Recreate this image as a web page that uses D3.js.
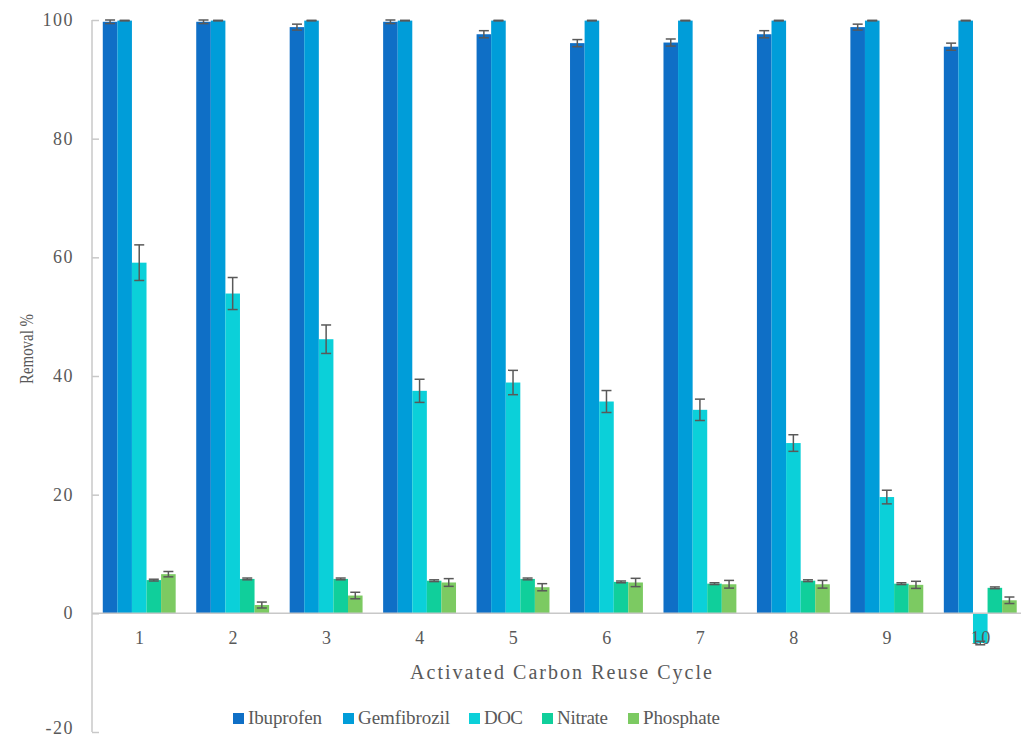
<!DOCTYPE html>
<html>
<head>
<meta charset="utf-8">
<script src="https://cdn.jsdelivr.net/npm/d3@7"></script>
<style>
  html, body { margin: 0; padding: 0; background: #fff; }
</style>
</head>
<body>
<svg id="chart" width="1021" height="740"></svg>
<script>
const categories = ["1", "2", "3", "4", "5", "6", "7", "8", "9", "10"];
const seriesNames = ["Ibuprofen", "Gemfibrozil", "DOC", "Nitrate", "Phosphate"];
const seriesColors = ["#0F6FC6", "#009DD9", "#0BD0D9", "#10CF9B", "#7CCA62"];

const ibuprofen    = [99.7, 99.7, 98.8, 99.7, 97.6, 96.1, 96.2, 97.6, 98.8, 95.5];
const ibuprofenErr = [0.3, 0.3, 0.5, 0.3, 0.6, 0.6, 0.6, 0.6, 0.5, 0.6];
const gemfibrozil    = [99.9, 99.9, 99.9, 99.9, 99.9, 99.9, 99.9, 99.9, 99.9, 99.9];
const gemfibrozilErr = [0.05, 0.05, 0.05, 0.05, 0.05, 0.05, 0.05, 0.05, 0.05, 0.05];
const doc    = [59.1, 53.9, 46.2, 37.5, 38.9, 35.7, 34.3, 28.7, 19.6, -5.0];
const docErr = [3.0, 2.7, 2.4, 1.95, 2.05, 1.85, 1.8, 1.4, 1.15, 0.3];
const nitrate    = [5.6, 5.8, 5.8, 5.5, 5.8, 5.3, 5.0, 5.5, 5.0, 4.3];
const nitrateErr = [0.15, 0.15, 0.15, 0.15, 0.15, 0.15, 0.15, 0.15, 0.15, 0.15];
const phosphate    = [6.6, 1.4, 3.0, 5.2, 4.4, 5.2, 4.9, 4.9, 4.8, 2.2];
const phosphateErr = [0.45, 0.5, 0.55, 0.65, 0.6, 0.7, 0.65, 0.65, 0.6, 0.55];

const yTicks = [-20, 0, 20, 40, 60, 80, 100];
const yTickLabels = ["-20", "0", "20", "40", "60", "80", "100"];
const xTitle = "Activated Carbon Reuse Cycle";
const yTitle = "Removal %";

const values = [ibuprofen, gemfibrozil, doc, nitrate, phosphate];
const errors = [ibuprofenErr, gemfibrozilErr, docErr, nitrateErr, phosphateErr];

const FONT = "'Liberation Serif', 'Times New Roman', serif";
const svg = d3.select("#chart");
const axisColor = "#C8C8C8";
const textColor = "#595959";

const x0 = d3.scaleBand().domain(categories).range([92.5, 1027]).paddingInner(0.22).paddingOuter(0.11);
const x1 = d3.scaleBand().domain(seriesNames).range([0, x0.bandwidth()]).padding(0);
const y = d3.scaleLinear().domain([-20, 100]).range([732, 20]);

// bars
const data = [];
categories.forEach((c, i) => {
  seriesNames.forEach((s, j) => {
    data.push({cat: c, s: s, j: j, v: values[j][i], e: errors[j][i]});
  });
});

svg.append("g").selectAll("rect").data(data).join("rect")
  .attr("x", d => x0(d.cat) + x1(d.s))
  .attr("width", x1.bandwidth())
  .attr("y", d => y(Math.max(0, d.v)))
  .attr("height", d => Math.abs(y(d.v) - y(0)))
  .attr("fill", d => seriesColors[d.j]);

// x axis line at zero
svg.append("line")
  .attr("x1", 92).attr("x2", 1021)
  .attr("y1", y(0)).attr("y2", y(0))
  .attr("stroke", axisColor).attr("stroke-width", 1.5);

// error bars
const eg = svg.append("g").attr("stroke", "#595959").attr("stroke-width", 1.5).attr("fill", "none");
data.forEach(d => {
  const cx = x0(d.cat) + x1(d.s) + x1.bandwidth() / 2;
  const top = y(d.v + d.e), bot = y(d.v - d.e);
  eg.append("line").attr("x1", cx).attr("x2", cx).attr("y1", top).attr("y2", bot);
  eg.append("line").attr("x1", cx - 5).attr("x2", cx + 5).attr("y1", top).attr("y2", top);
  eg.append("line").attr("x1", cx - 5).attr("x2", cx + 5).attr("y1", bot).attr("y2", bot);
});

// y axis
const yAxis = svg.append("g").attr("transform", "translate(92,0)")
  .call(d3.axisLeft(y).tickValues(yTicks).tickSize(-7).tickPadding(18)
    .tickFormat((d, i) => yTickLabels[i]));
yAxis.attr("font-family", FONT).attr("font-size", 18);
yAxis.select(".domain").attr("stroke", axisColor).attr("stroke-width", 1.5)
  .attr("d", `M0,${y(100)}V${y(-20)}`);
yAxis.selectAll(".tick line").attr("stroke", axisColor).attr("stroke-width", 1.5);
yAxis.selectAll(".tick text")
  .attr("fill", textColor)
  .attr("font-family", FONT)
  .attr("font-size", 18)
  .attr("letter-spacing", 1.5)
  .attr("dy", d => d === -20 ? "0.1em" : "0.3em");

// category labels
svg.append("g").selectAll("text").data(categories).join("text")
  .attr("x", d => x0(d) + x0.bandwidth() / 2 + 1)
  .attr("y", 644)
  .attr("text-anchor", "middle")
  .attr("fill", textColor)
  .attr("font-family", FONT)
  .attr("font-size", 18)
  .attr("letter-spacing", 1.5)
  .text(d => d);

// axis titles
svg.append("text")
  .attr("x", 410).attr("y", 679)
  .attr("textLength", 302).attr("lengthAdjust", "spacing")
  .attr("fill", textColor)
  .attr("font-family", FONT)
  .attr("font-size", 20)
  .text(xTitle);

svg.append("text")
  .attr("transform", "translate(33,384) rotate(-90)")
  .attr("x", 0).attr("y", 0)
  .attr("textLength", 70).attr("lengthAdjust", "spacingAndGlyphs")
  .attr("fill", textColor)
  .attr("font-family", FONT)
  .attr("font-size", 19)
  .text(yTitle);

// legend
const legendX = [233, 343, 469, 542, 628];
const legendW = [74, 92, 39, 51, 77];
const lg = svg.append("g");
seriesNames.forEach((s, j) => {
  lg.append("rect").attr("x", legendX[j]).attr("y", 713).attr("width", 11).attr("height", 11)
    .attr("fill", seriesColors[j]);
  lg.append("text").attr("x", legendX[j] + 15).attr("y", 724)
    .attr("textLength", legendW[j]).attr("lengthAdjust", "spacing")
    .attr("fill", textColor)
    .attr("font-family", FONT)
    .attr("font-size", 19)
    .text(s);
});
</script>
</body>
</html>
